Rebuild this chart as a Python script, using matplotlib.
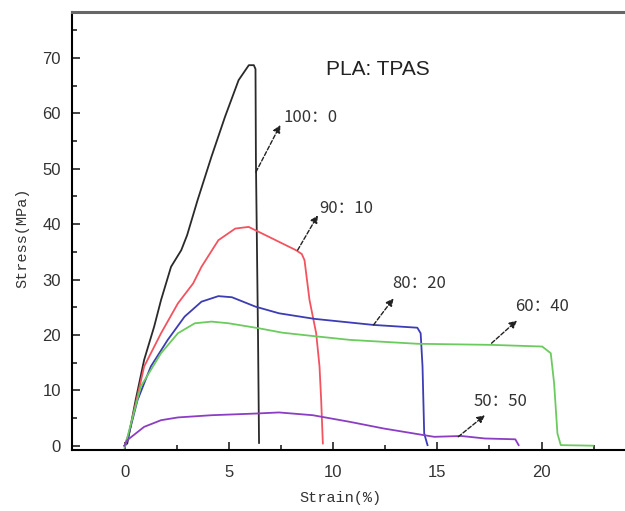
import matplotlib
matplotlib.use('Agg')
import matplotlib.pyplot as plt
from matplotlib.ticker import MultipleLocator

# ================================================================================================
# Stress-strain data (strain %, stress MPa)
# ================================================================================================

x_100_0 = [0, 0.13, 0.53, 0.94, 1.42, 1.75, 2.23, 2.72, 3.0, 3.5, 4.17, 4.82, 5.47, 5.96, 6.2, 6.28, 6.3, 6.4, 6.45]
y_100_0 = [0, 0.4, 8.2, 15.5, 21.5, 26.3, 32.3, 35.3, 38.0, 44.3, 52.2, 59.4, 66.0, 68.7, 68.7, 68.0, 51.6, 20.0, 0.5]

x_90_10 = [0, 0.21, 0.94, 1.75, 2.56, 3.29, 3.69, 4.5, 5.31, 5.95, 6.44, 8.22, 8.5, 8.63, 8.87, 9.19, 9.35, 9.43, 9.51]
y_90_10 = [0, 2.2, 14.3, 20.3, 25.7, 29.3, 32.3, 37.1, 39.2, 39.5, 38.6, 35.3, 34.6, 33.5, 26.3, 20.3, 14.3, 8.2, 0.4]

x_80_20 = [0, 0.13, 0.62, 1.26, 2.07, 2.88, 3.69, 4.5, 5.15, 6.28, 7.41, 9.1, 11.94, 14.04, 14.2, 14.29, 14.37, 14.53]
y_80_20 = [0, 1.0, 8.2, 14.3, 19.1, 23.3, 26.0, 27.0, 26.8, 25.1, 23.9, 22.9, 21.8, 21.3, 20.3, 14.3, 2.2, 0.1]

x_60_40 = [0, 0.78, 1.75, 2.56, 3.37, 4.17, 4.99, 6.44, 7.57, 9.03, 10.81, 14.04, 17.6, 20.03, 20.44, 20.6, 20.76, 20.92, 22.46]
y_60_40 = [-0.4, 10.7, 16.7, 20.3, 22.1, 22.4, 22.1, 21.2, 20.4, 19.8, 19.1, 18.4, 18.2, 17.9, 16.7, 11.3, 2.2, 0.1, 0.0]

x_50_50 = [0, 0.13, 0.94, 1.75, 2.56, 4.17, 6.28, 7.41, 9.03, 10.81, 12.43, 14.04, 14.85, 16.15, 17.28, 18.74, 18.9]
y_50_50 = [0, 1.0, 3.4, 4.6, 5.1, 5.5, 5.8, 6.0, 5.5, 4.3, 3.1, 2.1, 1.6, 1.75, 1.3, 1.15, 0.1]

# label, arrow start (on curve), arrow end, text position
labels = ['100\uff1a0', '90\uff1a10', '80\uff1a20', '60\uff1a40', '50\uff1a50']
arrow_start = [(6.3, 49.4), (8.3, 35.3), (11.94, 21.8), (17.6, 18.5), (16.0, 1.6)]
arrow_end = [(7.47, 57.9), (9.27, 41.6), (12.9, 26.6), (18.82, 22.6), (17.28, 5.5)]
text_pos = [(7.6, 59.2), (9.35, 42.8), (12.85, 29.3), (18.75, 25.2), (16.75, 7.9)]

xs = [x_100_0, x_90_10, x_80_20, x_60_40, x_50_50]
ys = [y_100_0, y_90_10, y_80_20, y_60_40, y_50_50]
colors = ['#2a2a2a', '#f2535f', '#3c3cb4', '#6ccb5f', '#8b3dc4']

# ================================================================================================
# Plot
# ================================================================================================

fig = plt.figure(figsize=(6.25, 5.11), dpi=100)
ax = fig.add_axes([72 / 625, 61 / 511, 1 - 72 / 625 + 0.01, 438 / 511])

for id, (x, y) in enumerate(zip(xs, ys)):
    ax.plot(x, y, color=colors[id], linewidth=1.3)

for lab, s, e, t in zip(labels, arrow_start, arrow_end, text_pos):
    ax.annotate('', xy=e, xytext=s,
                arrowprops=dict(arrowstyle='-|>', linestyle=(0, (3, 1.5)), color='#222222',
                                lw=1.0, mutation_scale=11, shrinkA=0, shrinkB=0))
    ax.text(t[0], t[1], lab, fontsize=12, color='#333333', va='center', ha='left',
            family=['Noto Sans CJK SC', 'DejaVu Sans'])

ax.text(9.66, 68.0, 'PLA: TPAS', fontsize=15, color='#222222', va='center', ha='left',
        family='Liberation Sans')

ax.set_xlim(-2.52, 24.3)
ax.set_ylim(-0.78, 78.3)

ax.xaxis.set_major_locator(MultipleLocator(5))
ax.xaxis.set_minor_locator(MultipleLocator(2.5))
ax.yaxis.set_major_locator(MultipleLocator(10))
ax.yaxis.set_minor_locator(MultipleLocator(5))

ax.tick_params(which='both', direction='in', top=False, right=False, colors='#222222', width=1.2)
ax.tick_params(which='major', length=6)
ax.tick_params(which='minor', length=3.5)
ax.tick_params(axis='x', pad=11, labelsize=12, labelcolor='#333333')
ax.tick_params(axis='y', pad=8, labelsize=12, labelcolor='#333333')
for lab in ax.get_xticklabels() + ax.get_yticklabels():
    lab.set_family('Liberation Sans')

ax.spines['right'].set_visible(False)
ax.spines['left'].set_linewidth(1.5)
ax.spines['bottom'].set_linewidth(1.5)
ax.spines['top'].set_linewidth(2.2)
ax.spines['top'].set_color('#666666')

fig.text(340 / 625, 1 - 498 / 511, 'Strain(%)', fontsize=11, color='#333333',
         ha='center', va='center', family='Liberation Mono')
fig.text(22 / 625, 1 - 238 / 511, 'Stress(MPa)', fontsize=11, color='#333333', rotation=90,
         ha='center', va='center', family='Liberation Mono')

fig.savefig('out.png', dpi=100)
